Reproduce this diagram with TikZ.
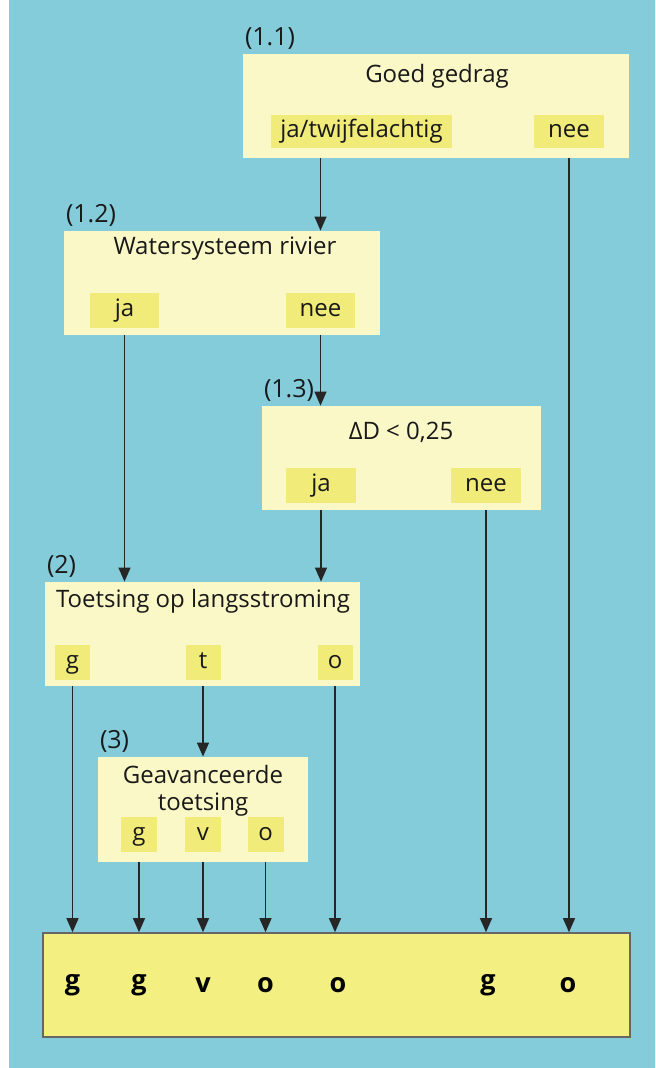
\documentclass[tikz,border=0pt]{standalone}
\usepackage{fontspec}
\setmainfont{Open Sans}
\usetikzlibrary{arrows.meta,positioning}
\definecolor{water}{HTML}{85CCDB}
\definecolor{paleyel}{HTML}{FAF8C6}
\definecolor{subyel}{HTML}{F1EB7A}
\definecolor{resyel}{HTML}{F3EF80}

\begin{document}
\begin{tikzpicture}[x=0.5pt, y=-0.5pt,
    every node/.style={font=\fontsize{12}{13.5}\selectfont, text=black!90},
    box/.style={rectangle, fill=paleyel, inner sep=0pt},
    keuze/.style={rectangle, fill=subyel, inner sep=0pt,
        text height=1.6ex, text depth=0.45ex},
    num/.style={font=\fontsize{12.5}{14}\selectfont, inner xsep=1pt, inner ysep=2pt},
    uitkomst/.style={font=\fontsize{13.5}{14}\selectfont\bfseries, text=black},
    pijl/.style={-{Triangle[length=7pt,width=6pt]}, line width=0.6pt, black!85},
]

% Background
\useasboundingbox (0,0) rectangle (655,1068);
\fill[water] (9,0) rectangle (655,1068);

% Main boxes
\node[box, minimum width=193pt, minimum height=52pt] (goed) at (436,106) {};
\node[box, minimum width=158pt, minimum height=52pt] (water) at (222,283) {};
\node[box, minimum width=139.5pt, minimum height=52pt] (delta) at (401.5,458) {};
\node[box, minimum width=157.5pt, minimum height=52pt] (toets) at (202.5,634) {};
\node[box, minimum width=105pt, minimum height=52.5pt] (geav) at (203,809.5) {};
\node[box, fill=resyel, draw=black!60, line width=0.8pt,
    minimum width=293.5pt, minimum height=52pt] (result) at (336.5,985) {};

% Step numbers
\node[num, above right=0pt and 0pt of goed.north west] (n11) {(1.1)};
\node[num, above right=0pt and 0pt of water.north west] (n12) {(1.2)};
\node[num, above right=0pt and 0pt of delta.north west] (n13) {(1.3)};
\node[num, above right=0pt and 0pt of toets.north west] (n2) {(2)};
\node[num, above right=0pt and 0pt of geav.north west] (n3) {(3)};

% Titles
\node (tgoed) at (437,76) {Goed gedrag};
\node (twater) at (225,249) {Watersysteem rivier};
\node (tdelta) at (401,432) {ΔD < 0,25};
\node (ttoets) at (203,601) {Toetsing op langsstroming};
\node[align=center] (tgeav) at (203,791) {Geavanceerde\\toetsing};

% Choices
\node[keuze, minimum width=90.5pt, minimum height=16.5pt] (jatw) at (361.5,131.5) {ja/twijfelachtig};
\node[keuze, minimum width=35pt, minimum height=16.5pt] (neeA) at (569,131.5) {nee};
\node[keuze, minimum width=34.5pt, minimum height=17.5pt] (jaB) at (124.5,310.5) {ja};
\node[keuze, minimum width=34.5pt, minimum height=17.5pt] (neeB) at (320.5,310.5) {nee};
\node[keuze, minimum width=35pt, minimum height=17.5pt] (jaC) at (321,485.5) {ja};
\node[keuze, minimum width=35pt, minimum height=17.5pt] (neeC) at (486,485.5) {nee};
\node[keuze, minimum width=17.5pt, minimum height=17.5pt] (gD) at (72.5,662.5) {g};
\node[keuze, minimum width=17.5pt, minimum height=17.5pt] (tD) at (203,662.5) {t};
\node[keuze, minimum width=17.5pt, minimum height=17.5pt] (oD) at (335,662.5) {o};
\node[keuze, minimum width=18pt, minimum height=17.5pt] (gE) at (139,834.5) {g};
\node[keuze, minimum width=18pt, minimum height=17.5pt] (vE) at (203,834.5) {v};
\node[keuze, minimum width=18pt, minimum height=17.5pt] (oE) at (265.5,834.5) {o};

% Outcomes
\node[uitkomst] (r1) at (gD |- result) {g};
\node[uitkomst] (r2) at (gE |- result) {g};
\node[uitkomst] (r3) at (vE |- result) {v};
\node[uitkomst] (r4) at (oE |- result) {o};
\node[uitkomst] (r5) at (338,985) {o};
\node[uitkomst] (r6) at (488,985) {g};
\node[uitkomst] (r7) at (568,985) {o};

% Arrows
\draw[pijl] (goed.south -| neeB) -- (water.north -| neeB);
\draw[pijl] (goed.south -| neeA) -- (result.north -| neeA);
\draw[pijl] (water.south -| jaB) -- (toets.north -| jaB);
\draw[pijl] (water.south -| neeB) -- (delta.north -| neeB);
\draw[pijl] (delta.south -| jaC) -- (toets.north -| jaC);
\draw[pijl] (delta.south -| neeC) -- (result.north -| neeC);
\draw[pijl] (toets.south -| tD) -- (geav.north -| tD);
\foreach \k in {gD,oD}
    \draw[pijl] (toets.south -| \k) -- (result.north -| \k);
\foreach \k in {gE,vE,oE}
    \draw[pijl] (geav.south -| \k) -- (result.north -| \k);

\end{tikzpicture}
\end{document}
